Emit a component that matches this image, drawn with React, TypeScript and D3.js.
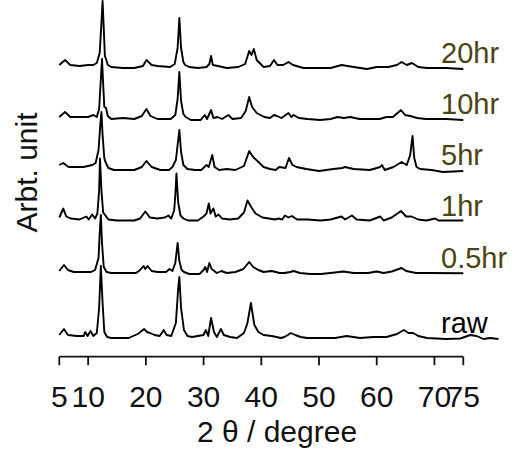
import React from "react";
import * as d3 from "d3";

// 2θ (degree) vs intensity above each trace's own baseline (arbitrary units)
const trace20hr: [number, number][] = [[5,3],[6,8],[6.9,3],[8.5,2],[10,3],[10.9,3],[11.5,5],[12.0,15],[12.3,45],[12.5,67],[12.7,40],[12.9,12],[13.1,9],[13.4,3],[14,1],[16,0],[18,0],[19.5,2],[20.1,8],[21,3],[22,2],[24.2,1],[25,4],[25.5,20],[25.8,50],[26.1,20],[26.5,6],[26.8,3],[27.5,1],[29,0],[30.5,1],[31,4],[31.3,12],[31.6,3],[32.5,2],[34,0],[36,1],[37.2,4],[37.9,17],[38.3,13],[38.7,19],[39.2,8],[40.4,1],[41.5,2],[42.2,8],[42.8,3],[43.8,3],[44.7,6],[45.5,3],[47.3,0],[50,0],[52,0],[53.9,3],[56,1],[58.3,-1],[60,1],[62,1],[63.5,3],[64.3,6],[65.2,3],[66.1,5],[67.2,1],[68.7,0],[72,0],[75,-1]];
const trace10hr: [number, number][] = [[5,2],[6,7],[6.9,2],[8.5,2],[10,2],[10.9,4],[11.5,2],[11.9,10],[12.2,40],[12.4,60],[12.6,35],[12.8,12],[13.1,11],[13.4,3],[14,0],[16,1],[18,0],[19.3,3],[20.1,10],[20.8,3],[22,0],[24.3,0],[25.1,4],[25.5,20],[25.8,47],[26.1,18],[26.5,5],[26.9,2],[27.8,-1],[29.5,-1],[30.2,4],[30.6,0],[31.3,9],[31.7,1],[32.4,2],[33.2,0],[34.3,4],[35,0],[36.5,1],[37.3,8],[37.9,22],[38.4,12],[39.2,6],[40.5,2],[41.5,1],[42.2,4],[42.7,3],[43.5,1],[44.7,6],[45.2,2],[45.6,4],[46.5,1],[48,0],[50.2,-1],[52,0],[53.2,2],[54.3,1],[55.4,2],[57,0],[58.7,0],[60.5,0],[61.7,2],[62.8,2],[64.2,9],[64.9,4],[65.8,3],[67,1],[68.5,0],[72,0],[75,-1]];
const trace5hr: [number, number][] = [[5,5],[5.7,7],[6.6,3],[8,3],[9.2,3],[10.7,5],[11.3,7],[11.8,20],[12.1,45],[12.3,58],[12.5,35],[12.8,12],[13.0,8],[13.5,2],[14.5,0],[16.5,0],[18,0],[19.3,3],[20.1,9],[21,3],[22.5,0],[24,0],[24.6,3],[25.2,10],[25.5,25],[25.8,40],[26.1,18],[26.5,5],[27.2,1],[28.5,0],[29.6,0],[30.5,5],[30.9,3],[31.5,15],[31.9,3],[32.7,0],[34,1],[35.5,0],[37,4],[37.9,19],[38.6,13],[39.5,8],[40.4,3],[41.5,1],[42.5,0],[43.1,3],[44.2,2],[44.8,12],[45.4,5],[46.1,3],[47.8,1],[50,-1],[52.5,1],[54,2],[54.5,3],[56,1],[58.8,0],[60.6,3],[60.9,5],[61.4,0],[62.9,3],[64.3,8],[65.2,5],[65.8,15],[66.2,34],[66.5,12],[66.9,3],[67.5,1],[69.5,0],[71.5,-2],[75,-1]];
const trace1hr: [number, number][] = [[5,3],[5.7,12],[6.2,4],[7,2],[8.5,1],[9.7,4],[10.1,1],[10.7,6],[11.2,2],[11.6,7],[11.9,30],[12.05,62],[12.3,30],[12.6,8],[13,5],[13.5,1],[15,0],[18,0],[19,2],[19.9,9],[20.7,3],[22,2],[23.3,3],[23.9,5],[24.4,2],[24.9,10],[25.1,25],[25.3,47],[25.6,18],[26,5],[26.5,2],[27.3,0],[29,0],[30,4],[30.5,7],[30.9,17],[31.2,7],[31.7,12],[32.1,4],[32.6,6],[33.2,2],[34.5,1],[36,2],[37,8],[37.6,20],[38.3,13],[39,7],[40.2,3],[41.3,2],[42.4,1],[43,2],[43.6,1],[44.1,5],[44.7,3],[45.3,4.5],[46.2,1],[48,1],[50.3,0],[52,1],[53.9,4],[54.5,1],[55.7,5],[56.5,1],[58.8,0],[60.6,4],[61.2,0],[62.6,3],[64.2,9.5],[65.1,4],[66,4],[67.2,1],[68.6,0],[70.1,2],[70.7,0],[75,0]];
const trace05hr: [number, number][] = [[5,2],[5.8,8],[6.5,3],[7.5,1],[10.5,1],[11.2,3],[11.8,15],[12.0,40],[12.2,58],[12.4,30],[12.7,6],[13.2,1],[14,0],[16,0],[18.3,0],[19.0,3],[19.6,7],[19.9,4],[20.3,7],[21.0,2],[22,1],[23.5,1],[24.1,4],[24.6,2],[25.1,10],[25.5,30],[25.8,12],[26.2,3],[26.6,1],[27.5,-1],[29.3,-1],[30,3],[30.3,6],[30.6,1],[31,10],[31.4,4],[32.3,0],[33.1,2],[34,0],[35.5,1],[36.9,4],[37.9,11],[38.6,6],[39.5,3],[40.4,1],[41.8,2],[43.2,0],[44,0],[45,1],[45.6,2],[46.7,0],[48.5,-1],[50.3,-1],[52,0],[54.2,1.5],[56,0],[58.5,0],[60,1.5],[61.2,0],[62.6,1.5],[64.3,5],[65.1,2],[66.8,0],[69.2,0],[75,-0.3]];
const traceRaw: [number, number][] = [[5,3],[5.8,9],[6.5,3],[8,2],[9.2,2],[9.5,6],[9.9,2],[10.4,7],[10.9,2],[11.5,5],[11.9,30],[12.2,72],[12.5,35],[12.8,6],[13.3,1],[14,0],[17,0],[18.6,4],[19.7,9],[20.2,6],[20.7,5],[21.5,3],[22.4,2],[23.1,8],[23.6,3],[24.4,2],[25.2,15],[25.6,50],[25.8,61],[26.1,30],[26.6,8],[27.2,2],[28,1],[30,3],[30.4,8],[30.8,2],[31.3,20],[31.8,6],[32.3,1],[33,9],[33.5,3],[34.6,1],[35.8,0],[37,5],[37.6,15],[38.2,35],[38.8,13],[39.5,6],[40.4,3],[41.8,2],[43.4,0],[44,1],[44.6,3],[45.1,5],[45.9,3],[46.8,1],[48,0],[50.5,0],[52.8,0],[54.8,2],[57.1,0],[59.4,1],[61.7,1],[63.5,4],[64.7,8],[65.5,5],[66.3,5],[67.2,2],[68.7,0],[72,-1],[74.5,-0.5],[76.2,3],[77.3,2],[78.5,-1],[79.6,0],[81.1,-1]];

const seriesNames = ["20hr", "10hr", "5hr", "1hr", "0.5hr", "raw"];
const seriesData = [trace20hr, trace10hr, trace5hr, trace1hr, trace05hr, traceRaw];
const seriesOffsets = [288.7, 237.7, 186.7, 136.2, 83.7, 18.7];
const labelColors = ["#4a4510", "#4a4510", "#4a4510", "#4a4510", "#4a4510", "#000000"];
const tickValues = [5, 10, 20, 30, 40, 50, 60, 70, 75];

const W = 523;
const H = 449;
const FONT = "'Liberation Sans', Arial, sans-serif";

export default function App() {
  const x = d3.scaleLinear().domain([5, 75]).range([59.3, 463.3]);
  const y = d3.scaleLinear().domain([0, 360]).range([356.7, -3.3]);
  const axisY = y(0);
  const labelX = 441;

  return (
    <svg width={W} height={H} style={{ position: "absolute", left: 0, top: 0, background: "#fff" }}>
      {seriesData.map((data, i) => {
        const off = seriesOffsets[i];
        const line = d3
          .line<[number, number]>()
          .x((d) => x(d[0]))
          .y((d) => y(d[1] + off));
        return (
          <g key={seriesNames[i]}>
            <path d={line(data) || ""} fill="none" stroke="#000" strokeWidth={1.9} strokeLinejoin="round" />
            <text
              x={labelX}
              y={y(off) - 5}
              fontFamily={FONT}
              fontSize={29}
              fill={labelColors[i]}
            >
              {seriesNames[i]}
            </text>
          </g>
        );
      })}
      <line x1={x(5)} x2={x(75)} y1={axisY} y2={axisY} stroke="#111" strokeWidth={1.8} />
      {tickValues.map((t) => (
        <g key={t}>
          <line x1={x(t)} x2={x(t)} y1={axisY} y2={axisY + 8.5} stroke="#111" strokeWidth={1.8} />
          <text x={x(t)} y={406.5} textAnchor="middle" fontFamily={FONT} fontSize={30} fill="#111">
            {t}
          </text>
        </g>
      ))}
      <text x={277} y={441.5} textAnchor="middle" fontFamily={FONT} fontSize={30} fill="#111">
        2 θ / degree
      </text>
      <text
        transform={`translate(36.5,172.5) rotate(-90)`}
        textAnchor="middle"
        fontFamily={FONT}
        fontSize={30}
        fill="#111"
      >
        Arbt. unit
      </text>
    </svg>
  );
}
